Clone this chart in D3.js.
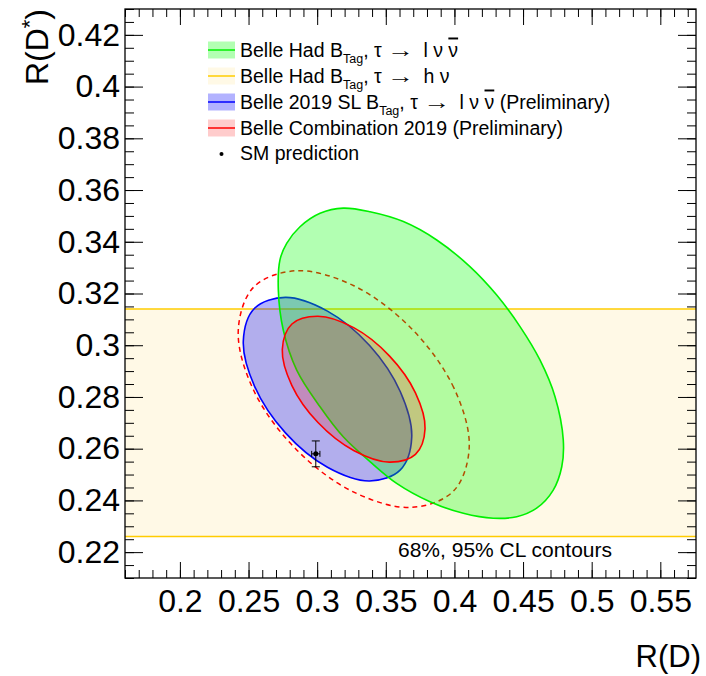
<!DOCTYPE html>
<html>
<head>
<meta charset="utf-8">
<script src="https://cdn.jsdelivr.net/npm/d3@7"></script>
<style>
  body { margin: 0; background: #fff; }
  svg text { font-family: "Liberation Sans", Arial, Helvetica, sans-serif; fill: #000; }
</style>
</head>
<body>
<div id="chart"></div>
<script>
// Belle R(D) vs R(D*) contours

// axis tick labels
const xTickLabels = [0.2, 0.25, 0.3, 0.35, 0.4, 0.45, 0.5, 0.55];
const yTickLabels = [0.22, 0.24, 0.26, 0.28, 0.3, 0.32, 0.34, 0.36, 0.38, 0.4, 0.42];

// Belle Had B_Tag, tau -> l nu nubar : 68% CL contour [R(D), R(D*)]
const hadLepContour68 = [
  [0.3190, 0.3530], [0.3385, 0.3516], [0.3628, 0.3478], [0.3871, 0.3407],
  [0.4113, 0.3304], [0.4308, 0.3194], [0.4478, 0.3072], [0.4623, 0.2943],
  [0.4733, 0.2801], [0.4793, 0.2634], [0.4782, 0.2530], [0.4720, 0.2440],
  [0.4599, 0.2370], [0.4454, 0.2337], [0.4283, 0.2331], [0.4065, 0.2350],
  [0.3822, 0.2395], [0.3579, 0.2466], [0.3385, 0.2550], [0.3190, 0.2646],
  [0.3021, 0.2762], [0.2851, 0.2904], [0.2753, 0.3059], [0.2717, 0.3214],
  [0.2729, 0.3330], [0.2778, 0.3394], [0.2875, 0.3458], [0.3021, 0.3510]
];

// Belle Had B_Tag, tau -> h nu : R(D*) only (1 sigma band)
const hadHadronRDs = 0.270;
const hadHadronRDsErr = 0.044;

// Belle 2019 SL B_Tag : 68% CL contour
const slContour68 = [
  [0.3689, 0.2644], [0.3606, 0.2820], [0.3382, 0.2999], [0.3075, 0.3132],
  [0.2769, 0.3185], [0.2544, 0.3143], [0.2462, 0.3016], [0.2544, 0.2841],
  [0.2769, 0.2661], [0.3075, 0.2528], [0.3382, 0.2475], [0.3606, 0.2518]
];

// Belle combination 2019 : 68% and 95% CL contours
const comboContour68 = [
  [0.3786, 0.2677], [0.3716, 0.2816], [0.3526, 0.2959], [0.3266, 0.3068],
  [0.3006, 0.3112], [0.2816, 0.3082], [0.2746, 0.2983], [0.2816, 0.2844],
  [0.3006, 0.2701], [0.3266, 0.2593], [0.3526, 0.2548], [0.3716, 0.2578]
];
const comboContour95 = [
  [0.4108, 0.2607], [0.3995, 0.2836], [0.3688, 0.3064], [0.3267, 0.3230],
  [0.2846, 0.3288], [0.2538, 0.3225], [0.2425, 0.3055], [0.2538, 0.2825],
  [0.2846, 0.2598], [0.3267, 0.2432], [0.3688, 0.2373], [0.3995, 0.2437]
];

// SM prediction
const smPoint = [0.299, 0.258];
const smErr = [0.003, 0.005];

const width = 706, height = 676;
const frame = { left: 125, right: 696, top: 9, bottom: 578 };

const svg = d3.select('#chart')
    .append('svg')
    .attr('width', width)
    .attr('height', height);

const x = d3.scaleLinear().domain([0.16, 0.576]).range([frame.left, frame.right]);
const y = d3.scaleLinear().domain([0.21, 0.43]).range([frame.bottom, frame.top]);

svg.append('clipPath').attr('id', 'clip')
    .append('rect')
    .attr('x', frame.left).attr('y', frame.top)
    .attr('width', frame.right - frame.left)
    .attr('height', frame.bottom - frame.top);

const plot = svg.append('g').attr('clip-path', 'url(#clip)');

const contourLine = d3.line()
    .x(d => x(d[0]))
    .y(d => y(d[1]))
    .curve(d3.curveCatmullRomClosed.alpha(0.5));

// tau -> h nu band
plot.append('rect')
    .attr('x', frame.left)
    .attr('width', frame.right - frame.left)
    .attr('y', y(hadHadronRDs + hadHadronRDsErr))
    .attr('height', y(hadHadronRDs - hadHadronRDsErr) - y(hadHadronRDs + hadHadronRDsErr))
    .attr('fill', 'rgb(255,249,230)');
[hadHadronRDs + hadHadronRDsErr, hadHadronRDs - hadHadronRDsErr].forEach(v => {
    plot.append('line')
        .attr('x1', frame.left).attr('x2', frame.right)
        .attr('y1', y(v)).attr('y2', y(v))
        .attr('stroke', '#ffcc00')
        .attr('stroke-width', 1.5);
});

// combination 95% (dashed)
plot.append('path')
    .attr('d', contourLine(comboContour95))
    .attr('fill', 'none')
    .attr('stroke', '#ff0000')
    .attr('stroke-width', 1.5)
    .attr('stroke-dasharray', '5,4');

// SL tag
plot.append('path')
    .attr('d', contourLine(slContour68))
    .attr('fill', 'rgba(0,0,255,0.3)')
    .attr('stroke', '#0000ff')
    .attr('stroke-width', 1.6);

// hadronic tag, leptonic tau
plot.append('path')
    .attr('d', contourLine(hadLepContour68))
    .attr('fill', 'rgba(0,255,0,0.3)')
    .attr('stroke', '#00f000')
    .attr('stroke-width', 1.6);

// combination 68%
plot.append('path')
    .attr('d', contourLine(comboContour68))
    .attr('fill', 'rgba(255,0,0,0.2)')
    .attr('stroke', '#ff0000')
    .attr('stroke-width', 1.6);

// SM prediction with error bars
const sm = plot.append('g').attr('stroke', '#000').attr('stroke-width', 1);
sm.append('line')
    .attr('x1', x(smPoint[0])).attr('x2', x(smPoint[0]))
    .attr('y1', y(smPoint[1] - smErr[1])).attr('y2', y(smPoint[1] + smErr[1]));
[smPoint[1] - smErr[1], smPoint[1] + smErr[1]].forEach(v => {
    sm.append('line')
        .attr('x1', x(smPoint[0]) - 4).attr('x2', x(smPoint[0]) + 4)
        .attr('y1', y(v)).attr('y2', y(v));
});
sm.append('line')
    .attr('x1', x(smPoint[0] - smErr[0])).attr('x2', x(smPoint[0] + smErr[0]))
    .attr('y1', y(smPoint[1])).attr('y2', y(smPoint[1]));
[smPoint[0] - smErr[0], smPoint[0] + smErr[0]].forEach(v => {
    sm.append('line')
        .attr('x1', x(v)).attr('x2', x(v))
        .attr('y1', y(smPoint[1]) - 3).attr('y2', y(smPoint[1]) + 3);
});
plot.append('circle')
    .attr('cx', x(smPoint[0]))
    .attr('cy', y(smPoint[1]))
    .attr('r', 2.5)
    .attr('fill', '#000');

// axes (ROOT style: ticks inside, on all four sides)
const fmt = d => String(d);
function styleAxis(g) {
    g.select('.domain').remove();
    g.selectAll('.tick line').attr('stroke', '#000').attr('stroke-width', 1);
}
const xMinor = x.ticks(40);
const yMinor = y.ticks(44);

svg.append('g')
    .attr('transform', `translate(0,${frame.bottom})`)
    .call(d3.axisBottom(x).tickValues(xMinor).tickSize(-8).tickFormat(''))
    .call(styleAxis);
svg.append('g')
    .attr('transform', `translate(0,${frame.bottom})`)
    .call(d3.axisBottom(x).tickValues(xTickLabels).tickSize(-16).tickPadding(11).tickFormat(fmt))
    .call(styleAxis)
    .call(g => g.selectAll('text').style('font-size', '32px'));
svg.append('g')
    .attr('transform', `translate(0,${frame.top})`)
    .call(d3.axisTop(x).tickValues(xMinor).tickSize(-8).tickFormat(''))
    .call(styleAxis);
svg.append('g')
    .attr('transform', `translate(0,${frame.top})`)
    .call(d3.axisTop(x).tickValues(xTickLabels).tickSize(-16).tickFormat(''))
    .call(styleAxis);

svg.append('g')
    .attr('transform', `translate(${frame.left},0)`)
    .call(d3.axisLeft(y).tickValues(yMinor).tickSize(-9).tickFormat(''))
    .call(styleAxis);
svg.append('g')
    .attr('transform', `translate(${frame.left},0)`)
    .call(d3.axisLeft(y).tickValues(yTickLabels).tickSize(-18).tickPadding(5).tickFormat(fmt))
    .call(styleAxis)
    .call(g => g.selectAll('text').style('font-size', '32px'));
svg.append('g')
    .attr('transform', `translate(${frame.right},0)`)
    .call(d3.axisRight(y).tickValues(yMinor).tickSize(-9).tickFormat(''))
    .call(styleAxis);
svg.append('g')
    .attr('transform', `translate(${frame.right},0)`)
    .call(d3.axisRight(y).tickValues(yTickLabels).tickSize(-18).tickFormat(''))
    .call(styleAxis);

// frame
svg.append('rect')
    .attr('x', frame.left).attr('y', frame.top)
    .attr('width', frame.right - frame.left)
    .attr('height', frame.bottom - frame.top)
    .attr('fill', 'none')
    .attr('stroke', '#000')
    .attr('stroke-width', 1.3);

// axis titles
svg.append('text')
    .attr('x', 701).attr('y', 667)
    .attr('text-anchor', 'end')
    .style('font-size', '31px')
    .text('R(D)');

const yTitle = svg.append('text')
    .attr('transform', 'translate(48,9) rotate(-90)')
    .attr('text-anchor', 'end')
    .style('font-size', '32px');
yTitle.append('tspan').text('R(D');
yTitle.append('tspan').attr('dy', -11).style('font-size', '22px').text('*');
yTitle.append('tspan').attr('dy', 11).text(')');

// CL note
svg.append('text')
    .attr('x', 398).attr('y', 557)
    .style('font-size', '21px')
    .text('68%, 95% CL contours');

// legend
const tauLep = [[', τ '], ['→', 'arrow'], [' \u2009l ν '], ['ν', 'bar']];
const legendItems = [
    { parts: [['Belle Had B'], ['Tag', 'sub']].concat(tauLep),
      fill: 'rgba(0,255,0,0.3)', stroke: '#00f000' },
    { parts: [['Belle Had B'], ['Tag', 'sub'], [', τ '], ['→', 'arrow'], [' \u2009h ν']],
      fill: 'rgb(255,249,230)', stroke: '#ffcc00' },
    { parts: [['Belle 2019 SL B'], ['Tag', 'sub']].concat(tauLep, [[' (Preliminary)']]),
      fill: 'rgba(0,0,255,0.3)', stroke: '#0000ff' },
    { parts: [['Belle Combination 2019 (Preliminary)']],
      fill: 'rgba(255,0,0,0.2)', stroke: '#ff0000' },
    { parts: [['SM prediction']], marker: true }
];
const rowY = [50, 76, 102, 128, 153];
const legend = svg.append('g');
legendItems.forEach((item, i) => {
    const cy = rowY[i];
    if (item.marker) {
        legend.append('circle').attr('cx', 221.5).attr('cy', cy + 1).attr('r', 2).attr('fill', '#000');
    } else {
        legend.append('rect')
            .attr('x', 208).attr('y', cy - 8.5)
            .attr('width', 27).attr('height', 17)
            .attr('fill', item.fill);
        legend.append('line')
            .attr('x1', 208).attr('x2', 235)
            .attr('y1', cy).attr('y2', cy)
            .attr('stroke', item.stroke).attr('stroke-width', 1.5);
    }
    const t = legend.append('text')
        .attr('x', 240).attr('y', cy + 6.5)
        .style('font-size', '19.5px')
        .style('white-space', 'pre');
    let shift = 0;
    item.parts.forEach(([s, kind]) => {
        const ts = t.append('tspan').text(s);
        let want = 0;
        if (kind === 'sub') { want = 6; ts.style('font-size', '12.5px'); }
        if (want !== shift) { ts.attr('dy', want - shift); shift = want; }
        if (kind === 'arrow') {
            ts.attr('textLength', 27).attr('lengthAdjust', 'spacingAndGlyphs');
        }
        if (kind === 'bar') ts.style('text-decoration', 'overline');
    });
});
</script>
</body>
</html>
